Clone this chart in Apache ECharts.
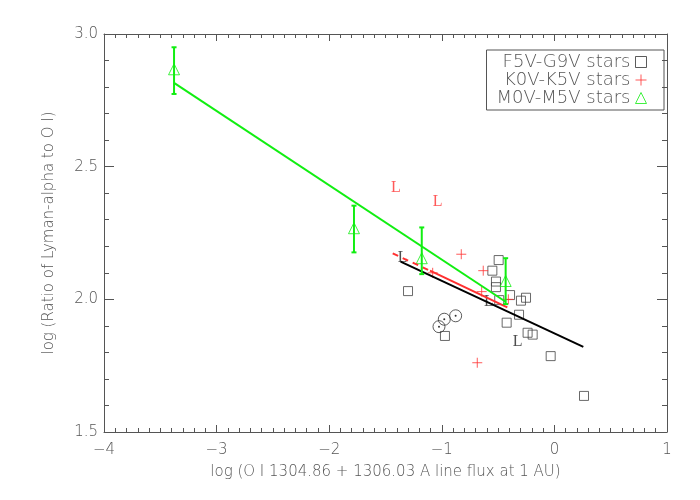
<!DOCTYPE html>
<html>
<head>
<meta charset="utf-8">
<script src="https://cdn.jsdelivr.net/npm/echarts@6/dist/echarts.min.js"></script>
<style>
    html, body { margin: 0; padding: 0; background: #fff; }
    #chart { width: 700px; height: 500px; }
</style>
</head>
<body>
<div id="chart"></div>
<script>
    // F5V-G9V stars (squares)
    var fgStars = [
        [-1.300, 2.031], [-0.972, 1.862], [-0.495, 2.148], [-0.551, 2.108],
        [-0.519, 2.067], [-0.519, 2.046], [-0.490, 1.997], [-0.394, 2.016],
        [-0.297, 1.995], [-0.252, 2.006], [-0.314, 1.942], [-0.424, 1.912],
        [-0.238, 1.874], [-0.193, 1.867], [-0.033, 1.786], [0.263, 1.636]
    ];
    // sun-like symbols (circle with dot)
    var sunPoints = [[-1.025, 1.897], [-0.978, 1.925], [-0.877, 1.938]];
    // K0V-K5V stars (crosses)
    var kStars = [
        [-0.827, 2.170], [-0.632, 2.108], [-0.646, 2.029], [-0.409, 2.000],
        [-0.685, 1.761], [-1.081, 2.100]
    ];
    // M0V-M5V stars (triangles) and their error bars [x, low, high]
    var mStars = [[-3.378, 2.867], [-1.780, 2.268], [-1.178, 2.155], [-0.433, 2.069]];
    var mErrors = [
        [-3.378, 2.774, 2.950], [-1.780, 2.177, 2.353],
        [-1.178, 2.095, 2.271], [-0.433, 1.982, 2.155]
    ];
    // lower limits ("L")
    var redLimits = [[-1.407, 2.422], [-1.036, 2.366]];
    var blackLimits = [[-1.347, 2.158], [-0.581, 1.991], [-0.327, 1.840]];
    // fit lines
    var fitFG = [[-1.366, 2.142], [0.257, 1.821]];
    var fitKdash = [[-1.436, 2.173], [-1.105, 2.108]];
    var fitK = [[-1.105, 2.108], [-0.418, 1.970]];
    var fitM = [[-3.378, 2.816], [-0.433, 1.991]];

    var xTicks = { min: -4, max: 1, step: 1 };
    var yTicks = { min: 1.5, max: 3.0, step: 0.5 };

    var GRAY = '#555';
    var RED = '#ff3030';
    var GREEN = '#11ee11';
    var FONT = 'DejaVu Sans';
    var CROSS = 'path://M0,5L10,5M5,0L5,10';

    var chart = echarts.init(document.getElementById('chart'));

    function fmtX(v) {
        return v < 0 ? '\u2212' + Math.abs(v) : String(v);
    }

    var baseX = {
        type: 'value', min: xTicks.min, max: xTicks.max, interval: xTicks.step,
        axisLine: { show: true, onZero: false, lineStyle: { color: GRAY, width: 1 } },
        axisTick: { show: true, inside: true, length: 7, lineStyle: { color: GRAY } },
        minorTick: { show: true, splitNumber: 10, length: 4, lineStyle: { color: GRAY } },
        splitLine: { show: false }
    };
    var baseY = {
        type: 'value', min: yTicks.min, max: yTicks.max, interval: yTicks.step,
        axisLine: { show: true, onZero: false, lineStyle: { color: GRAY, width: 1 } },
        axisTick: { show: true, inside: true, length: 10, lineStyle: { color: GRAY } },
        minorTick: { show: true, splitNumber: 5, length: 5, lineStyle: { color: GRAY } },
        splitLine: { show: false }
    };

    var option = {
        animation: false,
        backgroundColor: '#fff',
        grid: { left: 104, right: 33, top: 34, bottom: 68 },
        legend: {
            orient: 'vertical',
            right: 36, top: 50,
            align: 'right',
            padding: [3, 17, 3, 10],
            itemGap: 0,
            itemWidth: 11, itemHeight: 11,
            borderColor: GRAY, borderWidth: 1,
            textStyle: { fontFamily: FONT, fontSize: 18, lineHeight: 17, color: GRAY, fontWeight: 200 },
            data: [
                { name: 'F5V-G9V stars', icon: 'rect',
                  itemStyle: { color: 'rgba(0,0,0,0)', borderColor: '#333', borderWidth: 1 } },
                { name: 'K0V-K5V stars', icon: CROSS,
                  itemStyle: { color: 'rgba(0,0,0,0)', borderColor: RED, borderWidth: 1 } },
                { name: 'M0V-M5V stars', icon: 'triangle',
                  itemStyle: { color: 'rgba(0,0,0,0)', borderColor: GREEN, borderWidth: 1 } }
            ]
        },
        xAxis: [
            Object.assign({}, baseX, {
                position: 'bottom',
                name: 'log (O I 1304.86 + 1306.03 A line flux at 1 AU)',
                nameLocation: 'middle', nameGap: 33,
                nameTextStyle: { fontFamily: FONT, fontSize: 15, color: GRAY, fontWeight: 200 },
                axisLabel: { margin: 11, fontFamily: FONT, fontSize: 15, color: GRAY, fontWeight: 200,
                             formatter: fmtX }
            }),
            Object.assign({}, baseX, { position: 'top', axisLabel: { show: false } })
        ],
        yAxis: [
            Object.assign({}, baseY, {
                position: 'left',
                name: 'log (Ratio of Lyman-alpha to O I)',
                nameLocation: 'middle', nameGap: 47,
                nameTextStyle: { fontFamily: FONT, fontSize: 15, color: GRAY, fontWeight: 200 },
                axisLabel: { margin: 6, fontFamily: FONT, fontSize: 15, color: GRAY, fontWeight: 200,
                             formatter: function (v) { return v.toFixed(1); } }
            }),
            Object.assign({}, baseY, { position: 'right', axisLabel: { show: false } })
        ],
        series: [
            {
                name: 'M fit', type: 'line', data: fitM, symbol: 'none',
                lineStyle: { color: GREEN, width: 2 }, z: 3
            },
            {
                name: 'K fit dashed', type: 'line', data: fitKdash, symbol: 'none',
                lineStyle: { color: RED, width: 2, type: [6, 5] }, z: 3
            },
            {
                name: 'K fit', type: 'line', data: fitK, symbol: 'none',
                lineStyle: { color: RED, width: 2 }, z: 3
            },
            {
                name: 'FG fit', type: 'line', data: fitFG, symbol: 'none',
                lineStyle: { color: '#000', width: 2 }, z: 3
            },
            {
                name: 'F5V-G9V stars', type: 'scatter', data: fgStars,
                symbol: 'rect', symbolSize: 9,
                itemStyle: { color: 'rgba(0,0,0,0)', borderColor: '#444', borderWidth: 1 }
            },
            {
                name: 'sun', type: 'scatter', data: sunPoints,
                symbol: 'circle', symbolSize: 12,
                itemStyle: { color: 'rgba(0,0,0,0)', borderColor: '#333', borderWidth: 1 }
            },
            {
                name: 'sun dot', type: 'scatter', data: sunPoints,
                symbol: 'circle', symbolSize: 2,
                itemStyle: { color: '#000' }
            },
            {
                name: 'K0V-K5V stars', type: 'scatter', data: kStars,
                symbol: CROSS, symbolSize: 10,
                itemStyle: { color: 'rgba(0,0,0,0)', borderColor: RED, borderWidth: 1, opacity: 0.8 }
            },
            {
                name: 'M0V-M5V stars', type: 'scatter', data: mStars,
                symbol: 'triangle', symbolSize: 11,
                itemStyle: { color: 'rgba(0,0,0,0)', borderColor: GREEN, borderWidth: 1 }
            },
            {
                name: 'M errors', type: 'custom', data: mErrors, z: 4,
                renderItem: function (params, api) {
                    var x = api.value(0);
                    var lo = api.coord([x, api.value(1)]);
                    var hi = api.coord([x, api.value(2)]);
                    var w = 2.5;
                    var st = { stroke: GREEN, lineWidth: 2 };
                    return {
                        type: 'group',
                        children: [
                            { type: 'line', shape: { x1: lo[0], y1: lo[1], x2: hi[0], y2: hi[1] }, style: st },
                            { type: 'line', shape: { x1: hi[0] - w, y1: hi[1], x2: hi[0] + w, y2: hi[1] }, style: st },
                            { type: 'line', shape: { x1: lo[0] - w, y1: lo[1], x2: lo[0] + w, y2: lo[1] }, style: st }
                        ]
                    };
                }
            },
            {
                name: 'red limits', type: 'scatter', data: redLimits,
                symbolSize: 1, itemStyle: { color: 'rgba(0,0,0,0)' },
                label: { show: true, position: 'inside', formatter: 'L',
                         fontFamily: 'Liberation Serif', fontSize: 16, color: RED }
            },
            {
                name: 'black limits', type: 'scatter', data: blackLimits,
                symbolSize: 1, itemStyle: { color: 'rgba(0,0,0,0)' },
                label: { show: true, position: 'inside', formatter: 'L',
                         fontFamily: 'Liberation Serif', fontSize: 16, color: '#222' }
            }
        ]
    };

    chart.setOption(option);
</script>
</body>
</html>
